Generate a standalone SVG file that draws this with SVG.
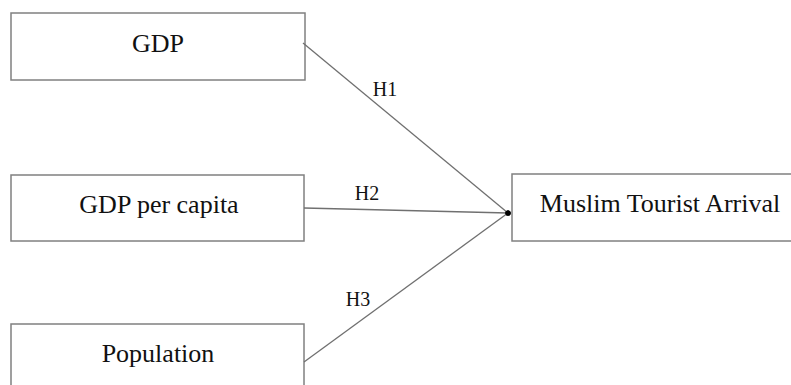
<svg xmlns="http://www.w3.org/2000/svg" width="791" height="385" viewBox="0 0 791 385">
<defs>
<style>
.box{fill:#fff;stroke:#808080;stroke-width:1.5}
.lbl{font-family:"Liberation Serif","Times New Roman",serif;font-size:26px;fill:#111;text-anchor:middle}
.h{font-family:"Liberation Serif","Times New Roman",serif;font-size:20px;fill:#111;text-anchor:middle}
.con{stroke:#707070;stroke-width:1.3;fill:none}
</style>
<marker id="dot" viewBox="0 0 6 6" refX="3" refY="3" markerWidth="6" markerHeight="6" markerUnits="userSpaceOnUse">
<circle cx="3" cy="3" r="2.6" fill="#000"/>
</marker>
</defs>
<rect width="791" height="385" fill="#fff"/>
<g id="gdp"><rect class="box" x="11" y="13" width="294" height="67"/><text class="lbl" x="158" y="52">GDP</text></g>
<g id="gdppc"><rect class="box" x="11" y="175" width="293" height="66"/><text class="lbl" x="159" y="213">GDP per capita</text></g>
<g id="pop"><rect class="box" x="11" y="324" width="293" height="70"/><text class="lbl" x="158" y="362">Population</text></g>
<g id="mta"><rect class="box" x="512" y="174" width="290" height="67"/><text class="lbl" x="660" y="212">Muslim Tourist Arrival</text></g>
<g id="connectors">
<line class="con" x1="303" y1="43" x2="508" y2="213" marker-end="url(#dot)"/>
<line class="con" x1="304" y1="208" x2="508" y2="213" marker-end="url(#dot)"/>
<line class="con" x1="304" y1="362" x2="508" y2="213" marker-end="url(#dot)"/>
<text class="h" x="385" y="96">H1</text>
<text class="h" x="367" y="200">H2</text>
<text class="h" x="358" y="306">H3</text>
</g>
</svg>
